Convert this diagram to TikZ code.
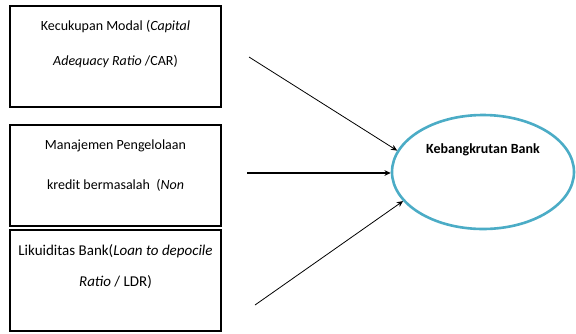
\documentclass[tikz,border=0pt]{standalone}
\usepackage{fontspec}
\setmainfont{Carlito}
\usetikzlibrary{arrows.meta,calc,positioning,shapes.geometric}
\definecolor{Ink}{HTML}{000000}
\definecolor{Sky}{HTML}{4BACC6}
\tikzset{
  factor/.style={
    draw=Ink, line width=2pt, fill=white,
    minimum width=211pt, minimum height=101pt, inner sep=0pt
  },
  factortext/.style={
    align=center, font=\fontsize{14}{35}\selectfont, inner sep=0pt
  },
  outcome/.style={
    ellipse, draw=Sky, line width=2.6pt, fill=white,
    minimum width=182pt, minimum height=114pt, inner sep=0pt
  },
  flow/.style={-{Stealth[length=2.2mm,width=2mm]}, line width=0.8pt, draw=Ink},
  boldflow/.style={-{Stealth[length=2.2mm,width=2mm]}, line width=1.6pt, draw=Ink}
}

\begin{document}
\begin{tikzpicture}[x=1pt,y=-1pt]
    \useasboundingbox (0,0) rectangle (576,333);
    \node[factor] (car) at (115.5,56.5) {};
    \node[factor] (npl) at (115.5,175.5) {};
    \node[factor] (ldr) at (115.5,280.5) {};
    \node[factortext,anchor=north] (cartext) at ($(car.north)+(0,15)$)
      {Kecukupan Modal (\textit{Capital}\\\textit{Adequacy Ratio} /CAR)};
    \node[factortext,anchor=north] (npltext) at ($(npl.north)+(0,16)$)
      {Manajemen Pengelolaan\\[5pt]kredit bermasalah \ (\textit{Non}};
    \node[factortext,font=\fontsize{15}{35}\selectfont,anchor=north] (ldrtext)
      at ($(ldr.north)+(0,15)$)
      {Likuiditas Bank(\textit{Loan to depocile}\\[-4pt]\textit{Ratio} / LDR)};
    \node[outcome] (bank) at (483,172) {};
    \node[font=\fontsize{14}{16}\selectfont\bfseries,anchor=north] (banktext)
      at ($(bank.north)+(0,26)$) {Kebangkrutan Bank};
    \coordinate (a1) at (249,57);
    \coordinate (a2) at (247,173);
    \coordinate (a3) at (255,305);
    \draw[flow] (a1)--(bank.166);
    \draw[boldflow] (a2)--(bank.west |- a2);
    \draw[flow] (a3)--(bank.200);
  \end{tikzpicture}
\end{document}
